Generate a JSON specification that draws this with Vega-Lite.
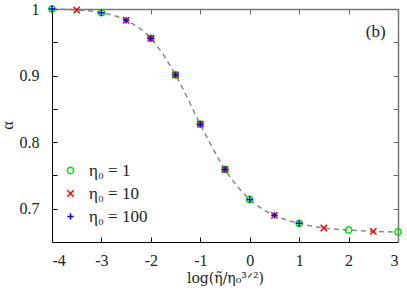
{
  "$schema": "https://vega.github.io/schema/vega-lite/v6.json",
  "width": 346,
  "height": 233,
  "autosize": {"type": "none"},
  "padding": {"left": 52, "top": 9, "right": 9, "bottom": 54},
  "background": "white",
  "view": {"stroke": null},
  "config": {
    "font": "Liberation Serif, Times New Roman, serif",
    "axis": {
      "labelFont": "Liberation Serif, Times New Roman, serif",
      "titleFont": "Liberation Serif, Times New Roman, serif",
      "labelFontSize": 16,
      "titleFontSize": 16,
      "labelColor": "#222",
      "titleColor": "#222",
      "titleFontWeight": "normal",
      "grid": false
    }
  },
  "resolve": {"axis": {"x": "independent", "y": "independent"}},
  "datasets": {
    "curve": [
      {"x": -4, "a": 1.0}, {"x": -3.5, "a": 0.9985}, {"x": -3, "a": 0.9945},
      {"x": -2.5, "a": 0.983}, {"x": -2, "a": 0.956}, {"x": -1.5, "a": 0.901},
      {"x": -1, "a": 0.827}, {"x": -0.5, "a": 0.759}, {"x": 0, "a": 0.714},
      {"x": 0.5, "a": 0.69}, {"x": 1, "a": 0.678}, {"x": 1.5, "a": 0.671},
      {"x": 2, "a": 0.668}, {"x": 2.5, "a": 0.666}, {"x": 3, "a": 0.665}
    ],
    "pts": [
      {"x": -4, "a": 1.0, "eta": "η₀ = 1"},
      {"x": -3, "a": 0.9945, "eta": "η₀ = 1"},
      {"x": -2, "a": 0.956, "eta": "η₀ = 1"},
      {"x": -1.5, "a": 0.901, "eta": "η₀ = 1"},
      {"x": -1, "a": 0.827, "eta": "η₀ = 1"},
      {"x": -0.5, "a": 0.759, "eta": "η₀ = 1"},
      {"x": 0, "a": 0.714, "eta": "η₀ = 1"},
      {"x": 1, "a": 0.678, "eta": "η₀ = 1"},
      {"x": 2, "a": 0.668, "eta": "η₀ = 1"},
      {"x": 3, "a": 0.665, "eta": "η₀ = 1"},
      {"x": -3.5, "a": 0.9985, "eta": "η₀ = 10"},
      {"x": -2.5, "a": 0.983, "eta": "η₀ = 10"},
      {"x": -2, "a": 0.956, "eta": "η₀ = 10"},
      {"x": -1.5, "a": 0.901, "eta": "η₀ = 10"},
      {"x": -1, "a": 0.827, "eta": "η₀ = 10"},
      {"x": -0.5, "a": 0.759, "eta": "η₀ = 10"},
      {"x": 0.5, "a": 0.69, "eta": "η₀ = 10"},
      {"x": 1.5, "a": 0.671, "eta": "η₀ = 10"},
      {"x": 2.5, "a": 0.666, "eta": "η₀ = 10"},
      {"x": -4, "a": 1.0, "eta": "η₀ = 100"},
      {"x": -3, "a": 0.9945, "eta": "η₀ = 100"},
      {"x": -2.5, "a": 0.983, "eta": "η₀ = 100"},
      {"x": -2, "a": 0.956, "eta": "η₀ = 100"},
      {"x": -1.5, "a": 0.901, "eta": "η₀ = 100"},
      {"x": -1, "a": 0.827, "eta": "η₀ = 100"},
      {"x": -0.5, "a": 0.759, "eta": "η₀ = 100"},
      {"x": 0, "a": 0.714, "eta": "η₀ = 100"},
      {"x": 0.5, "a": 0.69, "eta": "η₀ = 100"},
      {"x": 1, "a": 0.678, "eta": "η₀ = 100"}
    ],
    "lbl": [{"x": 2.55, "a": 0.965, "t": "(b)"}]
  },
  "layer": [
    {
      "data": {"name": "curve"},
      "mark": {"type": "line", "opacity": 0, "clip": false},
      "encoding": {
        "x": {
          "field": "x", "type": "quantitative",
          "scale": {"domain": [-4, 3], "nice": false, "zero": false},
          "axis": {"orient": "top", "values": [-4, -3, -2, -1, 0, 1, 2, 3], "labels": false, "tickSize": -5, "tickColor": "#666", "domainColor": "#777", "domainWidth": 1.5, "title": null}
        },
        "y": {
          "field": "a", "type": "quantitative",
          "scale": {"domain": [0.65, 1], "nice": false, "zero": false},
          "axis": {"orient": "right", "values": [0.7, 0.75, 0.8, 0.85, 0.9, 0.95, 1.0], "labels": false, "tickSize": -5, "tickColor": "#666", "domainColor": "#777", "domainWidth": 1.5, "title": null}
        }
      }
    },
    {
      "data": {"name": "curve"},
      "mark": {"type": "line", "interpolate": "monotone", "color": "#888888", "strokeWidth": 1.5, "strokeDash": [5, 4], "clip": false},
      "encoding": {
        "x": {
          "field": "x", "type": "quantitative",
          "axis": {
            "orient": "bottom", "values": [-4, -3, -2, -1, 0, 1, 2, 3],
            "labelExpr": "'' + datum.value", "tickSize": -5, "tickColor": "#000", "domainColor": "#000",
            "labelPadding": 15, "title": "log(η̃/η₀³ᐟ²)", "titleFont": "DejaVu Serif", "titleFontSize": 14, "titlePadding": 3
          }
        },
        "y": {
          "field": "a", "type": "quantitative",
          "axis": {
            "orient": "left", "values": [0.7, 0.75, 0.8, 0.85, 0.9, 0.95, 1.0],
            "labelExpr": "abs(datum.value*10 - round(datum.value*10)) < 0.01 ? ('' + round(datum.value*10)/10) : ''",
            "tickSize": -5, "tickColor": "#000", "domainColor": "#000",
            "labelPadding": 18, "title": "α", "titleX": -37, "titleY": 116
          }
        }
      }
    },
    {
      "data": {"name": "pts"},
      "mark": {"type": "point", "filled": false, "strokeWidth": 1.5, "size": 40, "opacity": 1, "clip": false},
      "encoding": {
        "x": {"field": "x", "type": "quantitative", "axis": null},
        "y": {"field": "a", "type": "quantitative", "axis": null},
        "color": {
          "field": "eta", "type": "nominal",
          "scale": {"domain": ["η₀ = 1", "η₀ = 10", "η₀ = 100"], "range": ["#00dd00", "#ff0000", "#0000ff"]},
          "legend": {
            "orient": "none", "legendX": 10, "legendY": 153, "title": null,
            "labelFont": "Liberation Serif, Times New Roman, serif", "labelFontSize": 17, "labelColor": "#222",
            "symbolSize": 40, "symbolStrokeWidth": 1.5, "rowPadding": 5, "labelOffset": 10
          }
        },
        "shape": {
          "field": "eta", "type": "nominal",
          "scale": {"domain": ["η₀ = 1", "η₀ = 10", "η₀ = 100"], "range": ["circle", "M-1,-1L1,1M1,-1L-1,1", "M-1,0L1,0M0,-1L0,1"]}
        }
      }
    },
    {
      "data": {"name": "lbl"},
      "mark": {"type": "text", "font": "Liberation Serif, Times New Roman, serif", "fontSize": 17, "color": "#222", "clip": false},
      "encoding": {
        "x": {"field": "x", "type": "quantitative", "axis": null},
        "y": {"field": "a", "type": "quantitative", "axis": null},
        "text": {"field": "t"}
      }
    }
  ]
}
